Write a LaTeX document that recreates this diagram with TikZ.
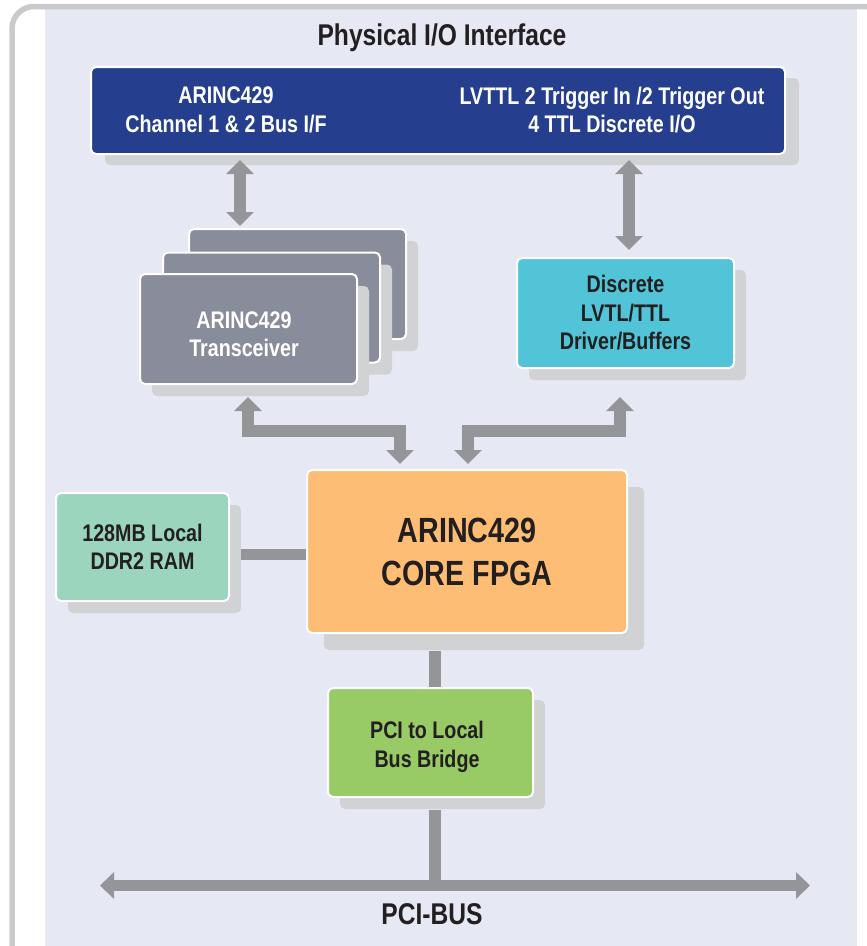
\documentclass[tikz,border=0pt]{standalone}
\usepackage{fontspec}
\setmainfont{Liberation Sans}[FakeStretch=0.82]
\usetikzlibrary{arrows.meta,calc,shadows}
\definecolor{bgl}{HTML}{E6E8F4}
\definecolor{framec}{HTML}{C9CACC}
\definecolor{blueb}{HTML}{253F8E}
\definecolor{grayb}{HTML}{898C9B}
\definecolor{cyanb}{HTML}{52C4D8}
\definecolor{orangeb}{HTML}{FDBD74}
\definecolor{mintb}{HTML}{9BD5BE}
\definecolor{greenb}{HTML}{98CB65}
\definecolor{shadowc}{HTML}{D1D2D4}
\definecolor{arrowc}{HTML}{939598}
\definecolor{textd}{HTML}{231F20}
\begin{document}
\begin{tikzpicture}[x=1pt,y=-1pt,
  box/.style={draw=white, line width=2pt, rounded corners=5pt, align=center,
              inner sep=0pt, text=textd},
  sh/.style={drop shadow={opacity=1, fill=shadowc, shadow xshift=#1pt, shadow yshift=-#1pt}},
  t24/.style={font=\fontsize{24}{28.5}\selectfont\bfseries, align=center},
  t30/.style={font=\fontsize{30}{34}\selectfont\bfseries, text=textd},
  t35/.style={font=\fontsize{35}{43}\selectfont\bfseries},
  conn/.style={draw=arrowc, line width=11.5pt, line join=miter},
  biarrow/.style={conn, {Triangle[width=27pt,length=14pt]}-{Triangle[width=27pt,length=14pt]}},
  busarrow/.style={draw=arrowc, line width=11pt, {Triangle[width=26pt,length=14pt]}-{Triangle[width=26pt,length=14pt]}}
]
\useasboundingbox (0,0) rectangle (867,946);
% background and frame
\fill[bgl] (45,9) rectangle (857,946);
\draw[framec, line width=5.5pt, rounded corners=22pt] (12,6.5) rectangle (920,1000);

% title
\node[t30] (title) at (442,38) {Physical I/O Interface};

% physical I/O interface box
\node[box, fill=blueb, minimum width=694pt, minimum height=87pt,
      drop shadow={opacity=1, fill=shadowc, shadow xshift=14pt, shadow yshift=-11pt}]
      (io) at (438,110.5) {};
\node[t24, text=white] (iol) at (226,110) {ARINC429\\Channel 1 \& 2 Bus I/F};
\node[t24, text=white] (ior) at (612,110) {LVTTL 2 Trigger In /2 Trigger Out\\4 TTL Discrete I/O};

% transceiver stack
\node[box, fill=grayb, sh=12, minimum width=217pt, minimum height=110pt] (trans3) at (297.5,284) {};
\node[box, fill=grayb, sh=12, minimum width=217pt, minimum height=110pt] (trans2) at (271.5,307.5) {};
\node[box, fill=grayb, sh=12, minimum width=217pt, minimum height=110pt] (trans1) at (248.5,329) {};
\node[t24, text=white] (trans1txt) at (244,334) {ARINC429\\Transceiver};

% discrete buffers
\node[box, fill=cyanb, sh=12, minimum width=217pt, minimum height=110pt, t24]
      (disc) at (625.5,313) {Discrete\\LVTL/TTL\\Driver/Buffers};

% FPGA
\node[box, fill=orangeb, sh=17, minimum width=320pt, minimum height=163pt, t35, align=center]
      (fpga) at (467,551.5) {ARINC429\\CORE FPGA};

% DDR2 RAM
\node[box, fill=mintb, sh=12, minimum width=173pt, minimum height=108pt, t24]
      (ddr) at (142.5,547) {128MB Local\\DDR2 RAM};

% PCI bridge
\node[box, fill=greenb, sh=12, minimum width=205pt, minimum height=109pt] (pci) at (430.5,742.5) {};
\node[t24, text=textd] (pcitxt) at (427,747) {PCI to Local\\Bus Bridge};

% PCI bus
\coordinate (busL) at (100,885.5);
\coordinate (busR) at (810,885.5);
\node[t30] (buslabel) at (432,914) {PCI-BUS};

% connectors
\draw[biarrow] ($(io.south west)+(150,5)$) -- ($(trans3.north west)+(52,-2)$);
\draw[biarrow] ($(io.south west)+(539,5)$) -- ($(disc.north west)+(113,-7)$);
\draw[biarrow] ($(trans1.south west)+(109,12)$) -- ++(0,34) -| ($(fpga.north west)+(94,-5)$);
\draw[biarrow] ($(disc.south west)+(104,28)$) -- ++(0,34) -| ($(fpga.north west)+(162,-5)$);
\draw[conn] ($(ddr.east)+(11,7.5)$) -- ($(ddr.east -| fpga.west)+(0,7.5)$);
\draw[conn] ($(fpga.south -| pci.north)+(4.5,17)$) -- ($(pci.north)+(4.5,0)$);
\draw[conn] ($(pci.south)+(4.5,12)$) -- ($(pci.south |- busL)+(4.5,0)$);
\draw[busarrow] (busL) -- (busR);
\end{tikzpicture}
\end{document}
